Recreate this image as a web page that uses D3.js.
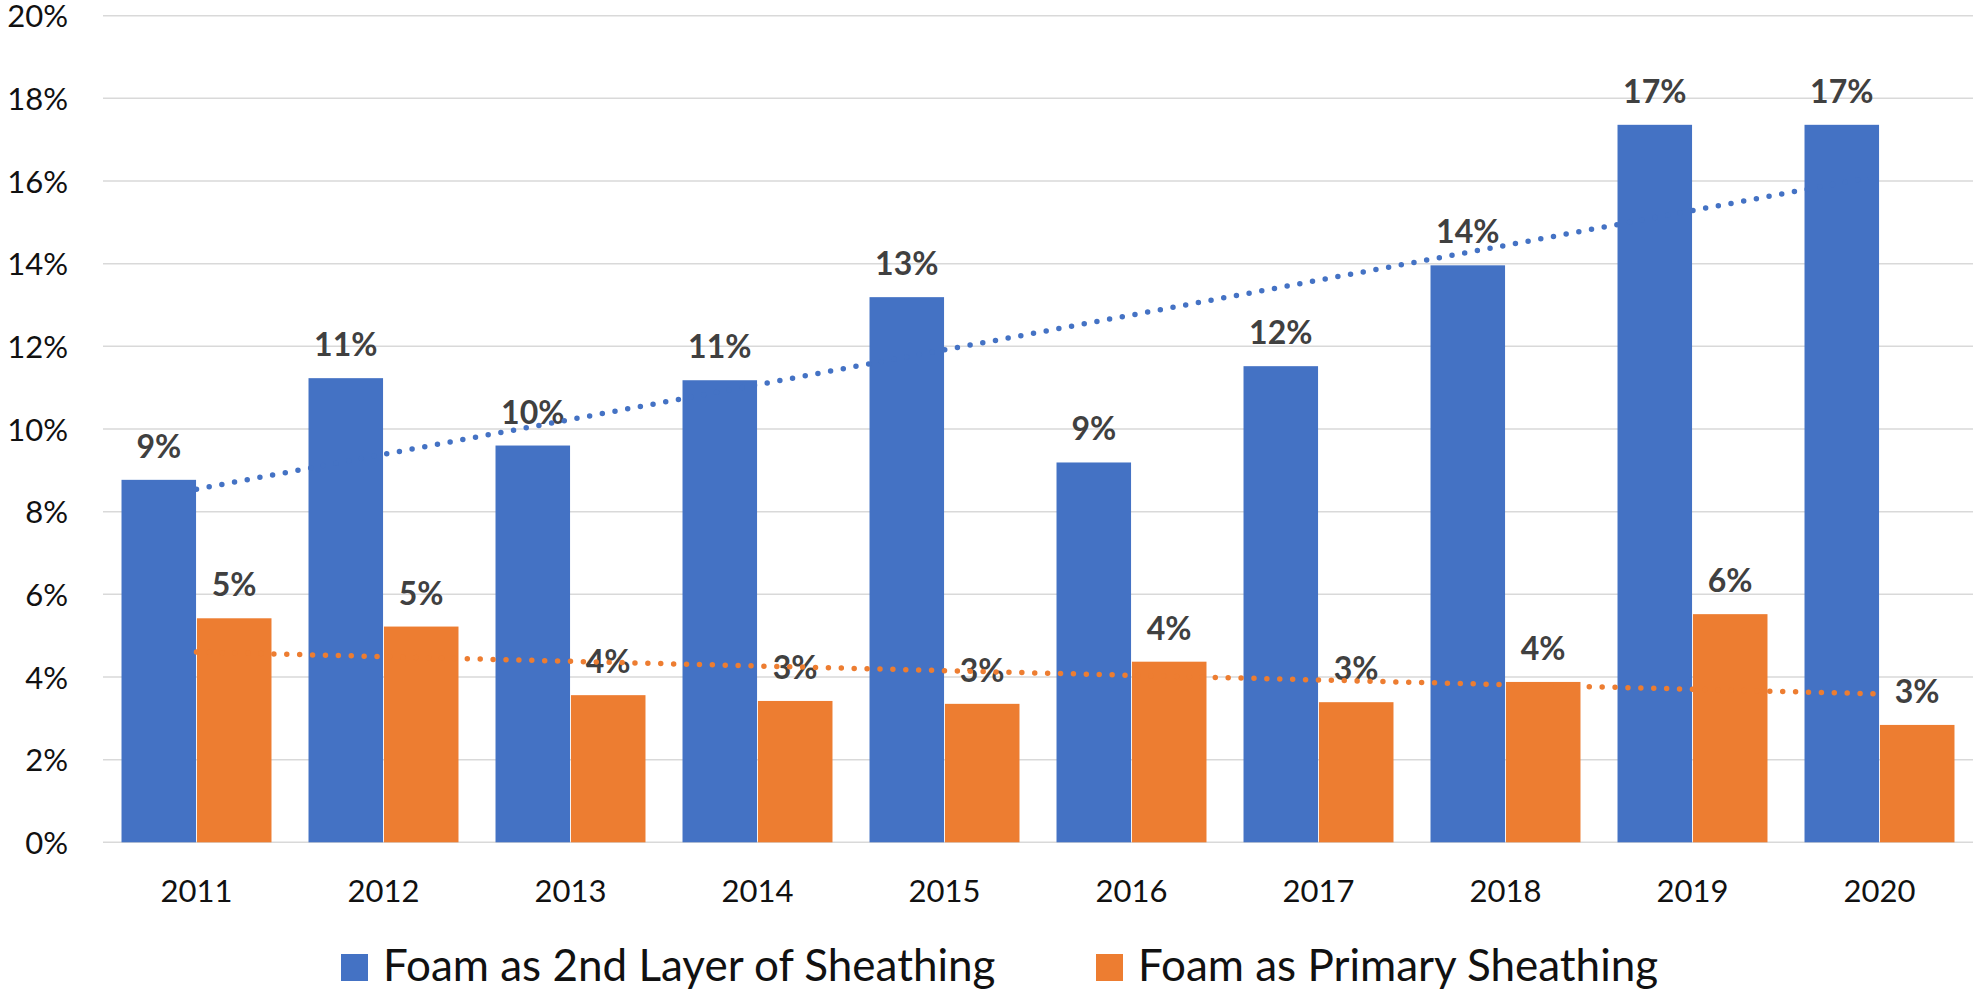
<!DOCTYPE html>
<html>
<head>
<meta charset="utf-8">
<script src="https://cdn.jsdelivr.net/npm/d3@7"></script>
<style>
  html, body { margin: 0; padding: 0; background: #fff; }
  svg { display: block; font-family: Lato, "Open Sans", sans-serif; }
</style>
</head>
<body>
<svg id="chart" width="1977" height="993"></svg>
<script>
// Share of new homes using foam sheathing, by year
const years = ["2011", "2012", "2013", "2014", "2015", "2016", "2017", "2018", "2019", "2020"];
const secondLayer = [0.0877, 0.1123, 0.0960, 0.1118, 0.1319, 0.0919, 0.1152, 0.1396, 0.1736, 0.1736];
const primary = [0.0542, 0.0522, 0.0356, 0.0342, 0.0335, 0.0437, 0.0339, 0.0388, 0.0552, 0.0284];
const seriesNames = ["Foam as 2nd Layer of Sheathing", "Foam as Primary Sheathing"];
const seriesColors = ["#4472C4", "#ED7D31"];
const yTicks = [0, 0.02, 0.04, 0.06, 0.08, 0.10, 0.12, 0.14, 0.16, 0.18, 0.20];

const series = [secondLayer, primary];

const svg = d3.select("#chart");
const plot = { left: 103, right: 1973, top: 15.7, bottom: 842.3 };

const x = d3.scaleBand()
  .domain(years)
  .range([plot.left, plot.right])
  .paddingInner(0.198)
  .paddingOuter(0.099);

const xs = d3.scaleBand()
  .domain([0, 1])
  .range([0, x.bandwidth()])
  .paddingInner(0.012);

const y = d3.scaleLinear().domain([0, 0.20]).range([plot.bottom, plot.top]);

const pct = d3.format(".0%");

// Horizontal gridlines (including the baseline)
svg.append("g")
  .selectAll("line")
  .data(yTicks)
  .join("line")
  .attr("x1", plot.left)
  .attr("x2", plot.right)
  .attr("y1", d => y(d))
  .attr("y2", d => y(d))
  .attr("stroke", "#d9d9d9")
  .attr("stroke-width", 1.5);

// Y axis labels
const yAxis = d3.axisLeft(y).tickValues(yTicks).tickFormat(pct).tickSize(0).tickPadding(0);
const yg = svg.append("g").attr("transform", "translate(68,0)").call(yAxis);
yg.select(".domain").remove();
yg.selectAll("text")
  .attr("font-family", "Lato, sans-serif")
  .attr("font-size", 31)
  .attr("fill", "#111")
  .attr("dy", "0.36em");

// X axis labels
const xAxis = d3.axisBottom(x).tickSize(0).tickPadding(0);
const xg = svg.append("g").attr("transform", `translate(0,${plot.bottom})`).call(xAxis);
xg.select(".domain").remove();
xg.selectAll("text")
  .attr("font-family", "Lato, sans-serif")
  .attr("font-size", 31)
  .attr("fill", "#111")
  .attr("y", 0)
  .attr("dy", 60);

// Bars
series.forEach((vals, si) => {
  svg.append("g")
    .selectAll("rect")
    .data(vals)
    .join("rect")
    .attr("x", (d, i) => x(years[i]) + xs(si))
    .attr("width", xs.bandwidth())
    .attr("y", d => y(d))
    .attr("height", d => y(0) - y(d))
    .attr("fill", seriesColors[si]);
});

// Data labels
series.forEach((vals, si) => {
  svg.append("g")
    .selectAll("text")
    .data(vals)
    .join("text")
    .attr("x", (d, i) => x(years[i]) + xs(si) + xs.bandwidth() / 2)
    .attr("y", d => y(d) - 22)
    .attr("text-anchor", "middle")
    .attr("font-family", "Lato, sans-serif")
    .attr("font-weight", 700)
    .attr("font-size", 32)
    .attr("fill", "#404040")
    .text(d => pct(d));
});

// Linear trendlines (least squares over category index), dotted
function linearFit(vals) {
  const n = vals.length;
  const xsIdx = d3.range(1, n + 1);
  const mx = d3.mean(xsIdx), my = d3.mean(vals);
  let sxy = 0, sxx = 0;
  xsIdx.forEach((xi, i) => { sxy += (xi - mx) * (vals[i] - my); sxx += (xi - mx) ** 2; });
  const slope = sxy / sxx;
  return xi => my + slope * (xi - mx);
}

const center = yr => x(yr) + x.bandwidth() / 2;
const line = d3.line().x(d => d[0]).y(d => d[1]);

series.forEach((vals, si) => {
  const fit = linearFit(vals);
  const n = vals.length;
  const pts = [
    [center(years[0]), y(fit(1))],
    [center(years[n - 1]), y(fit(n))]
  ];
  svg.append("path")
    .attr("d", line(pts))
    .attr("fill", "none")
    .attr("stroke", seriesColors[si])
    .attr("stroke-width", 5.5)
    .attr("stroke-linecap", "round")
    .attr("stroke-dasharray", "0 12.9");
});

// Legend
const legendItems = [
  { x: 341, name: seriesNames[0], color: seriesColors[0] },
  { x: 1096, name: seriesNames[1], color: seriesColors[1] }
];
const lg = svg.append("g");
legendItems.forEach(item => {
  lg.append("rect")
    .attr("x", item.x)
    .attr("y", 954)
    .attr("width", 27)
    .attr("height", 27)
    .attr("fill", item.color);
  lg.append("text")
    .attr("x", item.x + 42)
    .attr("y", 981)
    .attr("font-family", "Lato, sans-serif")
    .attr("font-size", 44)
    .attr("fill", "#111")
    .text(item.name);
});
</script>
</body>
</html>
